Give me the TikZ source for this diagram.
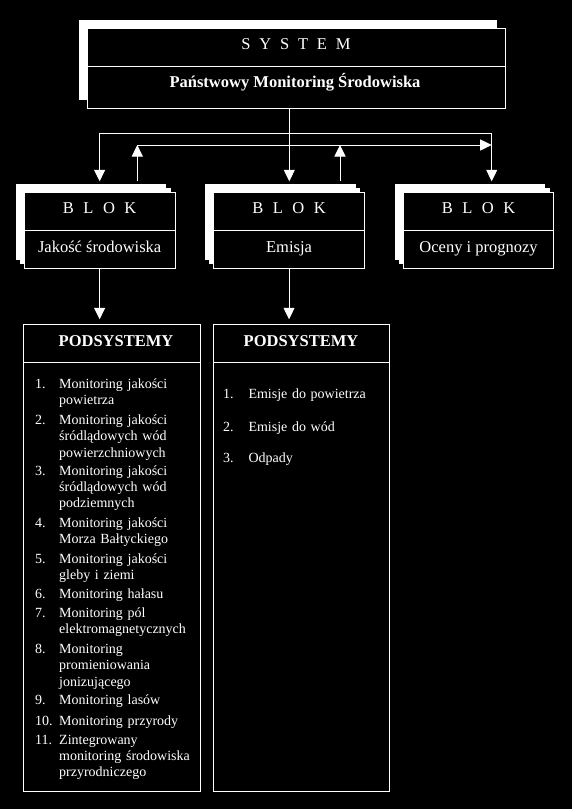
\documentclass[tikz,border=0pt]{standalone}
\usepackage{fontspec}
\setmainfont{Liberation Serif}
\usetikzlibrary{arrows.meta}
\newcommand{\lgap}{\hspace{8.8pt}}
\newcommand{\bgap}{\hspace{9.5pt}}
\tikzset{
  frame/.style={draw=white, fill=black, line width=1pt, inner sep=0pt, outer sep=0pt, anchor=north west},
  shadowbox/.style={fill=white, draw=none, inner sep=0pt, outer sep=0pt, anchor=north west},
  hdr/.style={text=white, font=\fontsize{16.5}{19}\selectfont, anchor=base, inner sep=0pt},
  hdrb/.style={text=white, font=\fontsize{16.5}{19}\selectfont\bfseries, anchor=base, inner sep=0pt},
  itemtxt/.style={text=white, font=\fontsize{14}{16.1}\selectfont, anchor=base west, inner sep=0pt, align=left, text width=150pt},
  num/.style={text=white, font=\fontsize{14}{16.1}\selectfont, anchor=base west, inner sep=0pt},
  wire/.style={draw=white, line width=1pt},
  arr/.style={wire, -{Triangle[length=11.5pt,width=11pt]}},
  divider/.style={draw=white, line width=1pt},
}
\begin{document}
\begin{tikzpicture}[x=1pt, y=-1pt]
\fill[black] (0,0) rectangle (572,809);
\useasboundingbox (0,0) rectangle (572,809);

% SYSTEM
\node[shadowbox, minimum width=418pt, minimum height=80pt] (syssh) at (79,20) {};
\node[frame, minimum width=418pt, minimum height=80pt] (sys) at (87,28.3) {};
\draw[divider] (sys.west |- 0,66.7) -- (sys.east |- 0,66.7);
\node[hdr] (systitle) at (296,49.8) {S\lgap Y\lgap S\lgap T\lgap E\lgap M};
\node[hdrb] (sysname) at (295,87) {Państwowy Monitoring Środowiska};

% BLOCKS
\foreach \nm/\bx in {b1/24.3, b2/213.7, b3/403.2} {
  \node[shadowbox, minimum width=150.7pt, minimum height=76pt] (\nm sha) at (\bx-8.6,192.3-8.3) {};
  \node[shadowbox, minimum width=150.7pt, minimum height=76pt] (\nm shb) at (\bx-4.3,192.3-4.2) {};
  \node[frame, minimum width=150.7pt, minimum height=76pt] (\nm) at (\bx,192.3) {};
  \draw[divider] (\nm.west |- 0,230.7) -- (\nm.east |- 0,230.7);
  \node[hdr] (\nm t) at (\nm.north |- 0,213.8) {B\bgap L\bgap O\bgap K};
}
\node[hdr] (b1l) at (b1.north |- 0,252.5) {Jakość środowiska};
\node[hdr] (b2l) at (b2.north |- 0,252.5) {Emisja};
\node[hdr] (b3l) at (b3.north |- 0,252.5) {Oceny i prognozy};

% connectors
\coordinate (j) at (289.3,133.3);
\coordinate (busL) at (b1.north |- j);
\coordinate (busR) at (491.7,133.3);
\coordinate (up1) at (137.3,145);
\coordinate (up2) at (340,145);
\draw[wire] (sys.south -| j) -- (j);
\draw[wire] (busL) -- (busR);
\draw[arr] (busL) -- ([yshift=11pt]b1.north);
\draw[arr] (j) -- ([yshift=11pt]b2.north -| j);
\draw[arr] (busR) -- ([yshift=11pt]b3.north -| busR);
\draw[arr] ([yshift=11pt]b1.north -| up1) -- (up1);
\draw[arr] ([yshift=11pt]b2.north -| up2) -- (up2);
\draw[arr] (up1) -- (busR |- up1);

% PODSYSTEMY boxes
\node[frame, minimum width=177pt, minimum height=467.4pt] (p1) at (23.5,324.3) {};
\node[frame, minimum width=175.8pt, minimum height=467.4pt] (p2) at (213.5,324.3) {};
\draw[divider] (p1.west |- 0,362.3) -- (p1.east |- 0,362.3);
\draw[divider] (p2.west |- 0,362.3) -- (p2.east |- 0,362.3);
\node[hdrb] (p1t) at (116,346.5) {PODSYSTEMY};
\node[hdrb] (p2t) at (301,346.5) {PODSYSTEMY};
\draw[arr] (b1.south) -- ([yshift=5pt]p1.north -| b1.south);
\draw[arr] (b2.south) -- ([yshift=5pt]p2.north -| b2.south);

% list 1
\node[num] (n1) at (35,388.8) {1.};
\node[itemtxt] (i1) at (59,388.8) {Monitoring jakości\\powietrza};
\node[num] (n2) at (35,424.8) {2.};
\node[itemtxt] (i2) at (59,424.8) {Monitoring jakości\\śródlądowych wód\\powierzchniowych};
\node[num] (n3) at (35,475.5) {3.};
\node[itemtxt] (i3) at (59,475.5) {Monitoring jakości\\śródlądowych wód\\podziemnych};
\node[num] (n4) at (35,527.5) {4.};
\node[itemtxt] (i4) at (59,527.5) {Monitoring jakości\\Morza Bałtyckiego};
\node[num] (n5) at (35,563.2) {5.};
\node[itemtxt] (i5) at (59,563.2) {Monitoring jakości\\gleby i ziemi};
\node[num] (n6) at (35,598.8) {6.};
\node[itemtxt] (i6) at (59,598.8) {Monitoring hałasu};
\node[num] (n7) at (35,617.2) {7.};
\node[itemtxt] (i7) at (59,617.2) {Monitoring pól\\elektromagnetycznych};
\node[num] (n8) at (35,653.8) {8.};
\node[itemtxt] (i8) at (59,653.8) {Monitoring\\promieniowania\\jonizującego};
\node[num] (n9) at (35,704.8) {9.};
\node[itemtxt] (i9) at (59,704.8) {Monitoring lasów};
\node[num] (n10) at (35,725.5) {10.};
\node[itemtxt] (i10) at (59,725.5) {Monitoring przyrody};
\node[num] (n11) at (35,744.5) {11.};
\node[itemtxt] (i11) at (59,744.5) {Zintegrowany\\monitoring środowiska\\przyrodniczego};

% list 2
\node[num] (m1) at (223,398.2) {1.};
\node[itemtxt] (j1) at (248.3,398.2) {Emisje do powietrza};
\node[num] (m2) at (223,431.5) {2.};
\node[itemtxt] (j2) at (248.3,431.5) {Emisje do wód};
\node[num] (m3) at (223,462.2) {3.};
\node[itemtxt] (j3) at (248.3,462.2) {Odpady};
\end{tikzpicture}
\end{document}
